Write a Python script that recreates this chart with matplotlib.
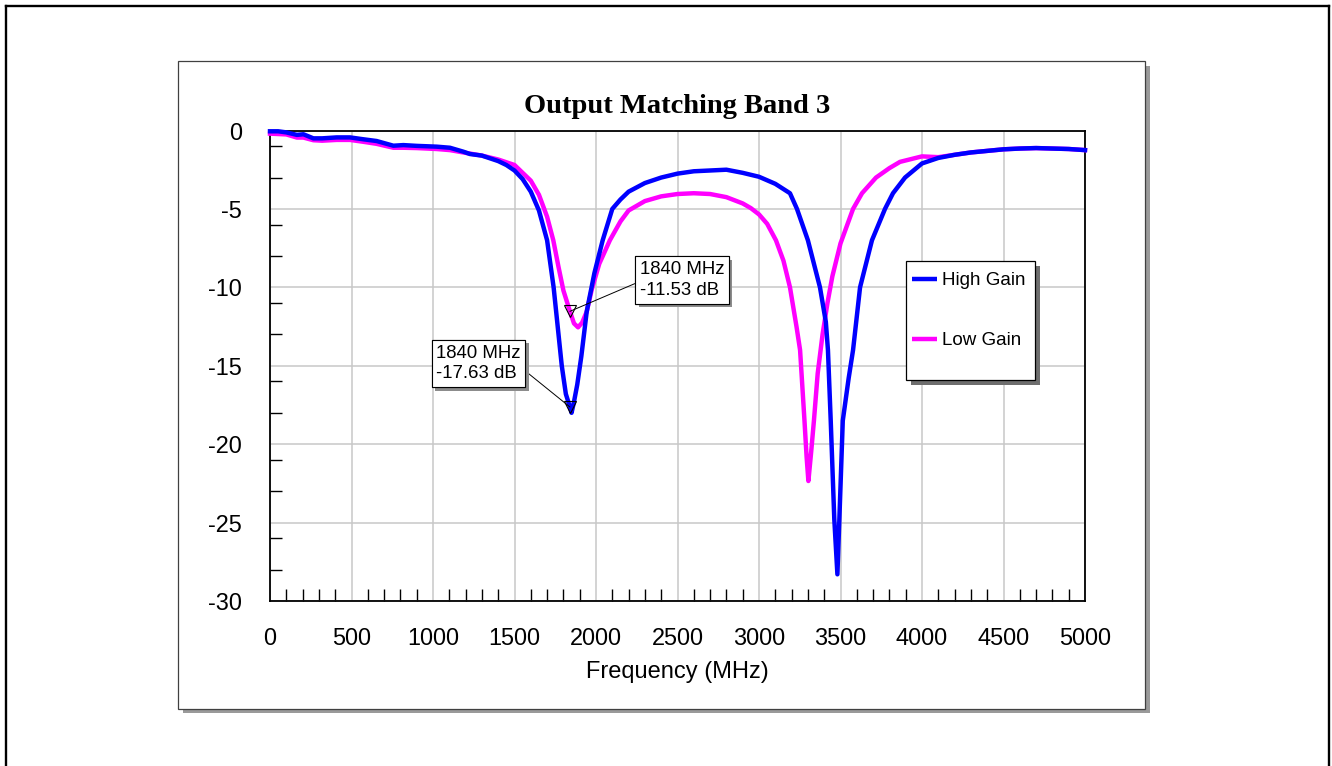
import matplotlib
matplotlib.use("Agg")
import matplotlib.pyplot as plt
import matplotlib.patheffects as pe
from matplotlib.patches import Rectangle
from matplotlib.lines import Line2D
from matplotlib.ticker import FixedLocator, NullFormatter

# ---- data -------------------------------------------------------------
freq_high = [0, 50, 100, 165, 205, 266, 320, 409, 491, 573, 654, 757, 818,
             900, 1022, 1104, 1186, 1227, 1300, 1400, 1450, 1500, 1550, 1600,
             1650, 1700, 1740, 1767, 1790, 1815, 1840, 1850, 1865, 1885, 1910,
             1943, 1990, 2041, 2100, 2150, 2200, 2300, 2400, 2500, 2600, 2700,
             2800, 2900, 3000, 3100, 3190, 3233, 3300, 3374, 3410, 3423, 3440,
             3462, 3481, 3493, 3514, 3550, 3577, 3620, 3693, 3773, 3822, 3896,
             4000, 4100, 4200, 4300, 4400, 4500, 4600, 4700, 4800, 4900, 5000]
gain_high = [-0.05, -0.05, -0.12, -0.28, -0.24, -0.5, -0.5, -0.44, -0.44,
             -0.56, -0.67, -0.97, -0.93, -0.98, -1.03, -1.1, -1.35, -1.5, -1.6,
             -1.95, -2.2, -2.55, -3.1, -3.9, -5.1, -7.0, -10.0, -12.7, -15.0,
             -16.8, -17.63, -18.0, -17.3, -16.2, -14.4, -11.55, -9.1, -7.0,
             -5.0, -4.4, -3.9, -3.35, -3.0, -2.75, -2.6, -2.55, -2.5, -2.7,
             -2.95, -3.4, -4.0, -5.0, -7.0, -10.0, -12.2, -14.0, -18.5, -24.8,
             -28.3, -24.8, -18.5, -15.8, -14.0, -10.0, -7.0, -5.0, -4.0, -3.0,
             -2.1, -1.75, -1.55, -1.4, -1.3, -1.2, -1.15, -1.12, -1.15, -1.18,
             -1.25]

freq_low = [0, 100, 165, 205, 266, 320, 409, 491, 573, 654, 757, 818, 900,
            1022, 1104, 1186, 1300, 1400, 1500, 1600, 1650, 1700, 1738, 1770,
            1800, 1840, 1865, 1890, 1915, 1943, 1975, 2020, 2085, 2150, 2200,
            2300, 2400, 2500, 2600, 2700, 2800, 2900, 2950, 3000, 3050, 3104,
            3150, 3190, 3230, 3252, 3279, 3292, 3303, 3320, 3337, 3360, 3390,
            3420, 3450, 3500, 3577, 3632, 3718, 3800, 3865, 4000, 4100, 4200,
            4300, 4400, 4500, 4600, 4700, 4800, 4900, 5000]
gain_low = [-0.2, -0.25, -0.45, -0.45, -0.62, -0.65, -0.6, -0.6, -0.72, -0.85,
            -1.1, -1.1, -1.12, -1.18, -1.25, -1.4, -1.6, -1.85, -2.2, -3.2,
            -4.1, -5.5, -7.0, -8.7, -10.2, -11.53, -12.3, -12.55, -12.25,
            -11.55, -10.1, -8.5, -7.0, -5.8, -5.1, -4.5, -4.2, -4.05, -4.0,
            -4.05, -4.25, -4.65, -4.95, -5.35, -5.95, -7.0, -8.3, -10.0, -12.5,
            -14.0, -18.5, -20.8, -22.35, -20.5, -18.5, -15.5, -13.0, -11.0,
            -9.3, -7.2, -5.0, -4.0, -3.0, -2.4, -2.0, -1.65, -1.7, -1.55, -1.4,
            -1.3, -1.2, -1.15, -1.12, -1.15, -1.18, -1.25]

series_names = ["High Gain", "Low Gain"]
series_colors = ["#0000ff", "#ff00ff"]

marker_freq = 1840
marker_high = -17.63
marker_low = -11.53

x_ticks = [0, 500, 1000, 1500, 2000, 2500, 3000, 3500, 4000, 4500, 5000]
y_ticks = [0, -5, -10, -15, -20, -25, -30]
x_minor = [f for f in range(100, 5000, 100) if f % 500 != 0]
y_minor = [-1, -3, -6, -8, -11, -13, -16, -18, -21, -23, -26, -28]

# ---- figure -----------------------------------------------------------
W, H = 1332, 766
plt.rcParams["font.family"] = ["Liberation Sans", "DejaVu Sans"]
plt.rcParams["axes.unicode_minus"] = False
fig = plt.figure(figsize=(W / 100, H / 100), dpi=100)
fig.patch.set_facecolor("white")


def fx(x):
    return x / W


def fy(y):
    return 1 - y / H


# outer frame (bottom edge lies outside the canvas)
for xs, ys in [((6, 6), (6, 780)), ((6, 1328.5), (6, 6)),
               ((1328.5, 1328.5), (6, 780))]:
    fig.add_artist(Line2D([fx(v) for v in xs], [fy(v) for v in ys],
                          transform=fig.transFigure, color="black", lw=1.7))

# chart panel with drop shadow (behind the axes)
px0, py0, px1, py1 = 178, 61, 1145, 708.5
fig.add_artist(Rectangle((fx(px0 + 4.5), fy(py1 + 4.5)), (px1 - px0) / W,
                         (py1 - py0) / H, transform=fig.transFigure,
                         facecolor="#9a9a9a", edgecolor="none", zorder=-2))
fig.add_artist(Rectangle((fx(px0), fy(py1)), (px1 - px0) / W, (py1 - py0) / H,
                         transform=fig.transFigure, facecolor="white",
                         edgecolor="#404040", lw=0.9, zorder=-1))

# plot area
ax_l, ax_r, ax_t, ax_b = 270, 1085, 130.5, 601
ax = fig.add_axes([fx(ax_l), fy(ax_b), (ax_r - ax_l) / W, (ax_b - ax_t) / H])
ax.set_xlim(0, 5000)
ax.set_ylim(-30, 0)
ax.set_axisbelow(True)

ax.plot(freq_low, gain_low, color=series_colors[1], lw=3.2,
        solid_joinstyle="round", clip_on=False, zorder=3)
ax.plot(freq_high, gain_high, color=series_colors[0], lw=3.2,
        solid_joinstyle="round", clip_on=False, zorder=4)

ax.set_xticks(x_ticks)
ax.set_yticks(y_ticks)
ax.xaxis.set_minor_locator(FixedLocator(x_minor))
ax.yaxis.set_minor_locator(FixedLocator(y_minor))
ax.xaxis.set_minor_formatter(NullFormatter())
ax.yaxis.set_minor_formatter(NullFormatter())
ax.grid(True, which="major", color="#c8c8c8", lw=1.1)
ax.tick_params(which="major", length=0, labelsize=16.9, pad=20)
ax.tick_params(axis="x", which="major", pad=19)
ax.tick_params(which="minor", direction="in", width=1.0, color="black")
ax.tick_params(axis="x", which="minor", length=9)
ax.tick_params(axis="y", which="minor", length=8.5)
for s in ax.spines.values():
    s.set_linewidth(1.3)
    s.set_color("black")

# title and axis label
fig.text(fx(677), fy(113), "Output Matching Band 3", ha="center",
         va="baseline", fontsize=20.5, fontweight="bold",
         family=["Liberation Serif", "DejaVu Serif"])
fig.text(fx(677), fy(672), "Frequency (MHz)", ha="center", va="center",
         fontsize=17)

# markers with value callouts
shadow = [pe.withSimplePatchShadow(offset=(2.5, -2.5),
                                   shadow_rgbFace="#8c8c8c", alpha=1.0),
          pe.Normal()]
ax.plot([marker_freq, marker_freq], [marker_low, marker_high], ls="none",
        marker="v", ms=8.5, mfc="none", mec="black", mew=0.8, zorder=6,
        clip_on=False)
callouts = [(marker_low, (682, 280), (0.0, 0.46)),
            (marker_high, (478.5, 363.5), (1.0, 0.4))]
for val, (cx, cy), rel in callouts:
    ax.annotate(f"{marker_freq} MHz\n{val:.2f} dB",
                xy=(marker_freq, val), xycoords="data",
                xytext=(cx, H - cy), textcoords="figure pixels",
                ha="center", va="center", multialignment="left",
                linespacing=1.3, fontsize=13.4, zorder=7,
                bbox=dict(boxstyle="square,pad=0.25", fc="white",
                          ec="black", lw=0.8, path_effects=shadow),
                arrowprops=dict(arrowstyle="-", color="black", lw=0.7,
                                relpos=rel, shrinkA=0, shrinkB=0))

# legend box
lx0, ly0, lx1, ly1 = 906, 261, 1035, 380
fig.add_artist(Rectangle((fx(lx0 + 5), fy(ly1 + 5)), (lx1 - lx0) / W,
                         (ly1 - ly0) / H, transform=fig.transFigure,
                         facecolor="#6e6e6e", edgecolor="none", zorder=8))
fig.add_artist(Rectangle((fx(lx0), fy(ly1)), (lx1 - lx0) / W,
                         (ly1 - ly0) / H, transform=fig.transFigure,
                         facecolor="white", edgecolor="black", lw=0.9,
                         zorder=9))
for name, color, ky in zip(series_names, series_colors, [279, 339]):
    fig.add_artist(Line2D([fx(912), fx(937)], [fy(ky), fy(ky)],
                          transform=fig.transFigure, color=color, lw=3.2,
                          solid_capstyle="butt", zorder=10))
    fig.text(fx(942), fy(ky + 6), name, ha="left", va="baseline",
             fontsize=13.5, zorder=10)

fig.savefig("out.png", dpi=100, facecolor="white")
